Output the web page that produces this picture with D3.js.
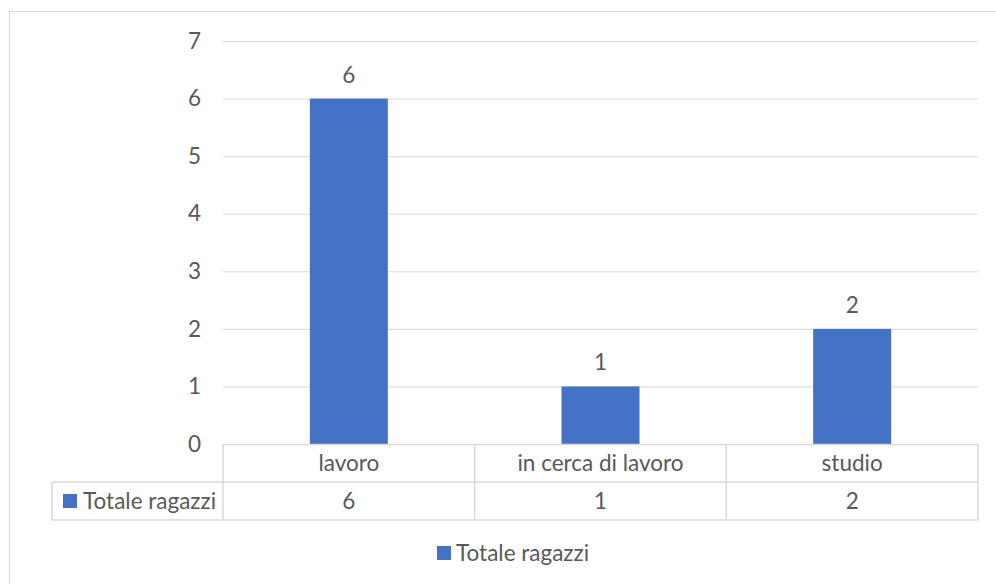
<!DOCTYPE html>
<html>
<head>
<meta charset="utf-8">
<script src="https://cdn.jsdelivr.net/npm/d3@7"></script>
<style>
  body { margin: 0; background: #fff; }
  text { font-family: Lato, "Open Sans", sans-serif; fill: #595959; }
</style>
</head>
<body>
<svg id="chart"></svg>
<script>
const categories = ["lavoro", "in cerca di lavoro", "studio"];
const values = [6, 1, 2];
const seriesName = "Totale ragazzi";
const yTicks = [0, 1, 2, 3, 4, 5, 6, 7];

const W = 996, H = 584;
const margin = { top: 41, right: 18, bottom: 140, left: 223 };
const plotW = W - margin.left - margin.right;
const plotH = H - margin.top - margin.bottom;
const rowH = 38;
const fs = 22.5;

const svg = d3.select("#chart").attr("width", W).attr("height", H);

// outer chart border
svg.append("rect")
    .attr("x", 9.5).attr("y", 11.5)
    .attr("width", W + 20).attr("height", H + 20)
    .attr("fill", "none").attr("stroke", "#d9d9d9");

const g = svg.append("g").attr("transform", `translate(${margin.left},${margin.top})`);

const x = d3.scaleBand().domain(categories).range([0, plotW]).paddingInner(0).paddingOuter(0);
const y = d3.scaleLinear().domain([0, 7]).range([plotH, 0]);
const barW = x.bandwidth() * 0.31;

// gridlines
g.selectAll(".grid")
    .data(yTicks.filter(d => d > 0))
    .join("line")
    .attr("x1", 0).attr("x2", plotW)
    .attr("y1", d => y(d) + 0.5).attr("y2", d => y(d) + 0.5)
    .attr("stroke", "#d9d9d9");

// y axis labels
const yAxis = g.append("g").call(d3.axisLeft(y).tickValues(yTicks).tickFormat(d3.format("d")).tickSize(0).tickPadding(22));
yAxis.select(".domain").remove();
yAxis.selectAll("text").style("font-size", fs + "px").attr("fill", "#595959")
    .attr("font-family", "Lato, Open Sans, sans-serif");

// bars
g.selectAll(".bar")
    .data(categories)
    .join("rect")
    .attr("x", d => x(d) + (x.bandwidth() - barW) / 2)
    .attr("y", (d, i) => y(values[i]))
    .attr("width", barW)
    .attr("height", (d, i) => plotH - y(values[i]))
    .attr("fill", "#4472c4");

// value labels
g.selectAll(".val")
    .data(categories)
    .join("text")
    .attr("x", d => x(d) + x.bandwidth() / 2)
    .attr("y", (d, i) => y(values[i]) - 16)
    .attr("text-anchor", "middle")
    .style("font-size", fs + "px")
    .text((d, i) => values[i]);

// data table
const tbl = g.append("g").attr("transform", `translate(0,${plotH})`);
const border = "#d9d9d9";
const leftColX = 52 - margin.left;

tbl.append("line").attr("x1", 0).attr("x2", plotW).attr("y1", 0.5).attr("y2", 0.5)
    .attr("stroke", border).attr("stroke-width", 1.5);
tbl.append("line").attr("x1", leftColX).attr("x2", plotW).attr("y1", rowH).attr("y2", rowH)
    .attr("stroke", border).attr("stroke-width", 1.5);
tbl.append("line").attr("x1", leftColX).attr("x2", plotW).attr("y1", rowH * 2).attr("y2", rowH * 2)
    .attr("stroke", border).attr("stroke-width", 1.5);
tbl.append("line").attr("x1", leftColX).attr("x2", leftColX).attr("y1", rowH).attr("y2", rowH * 2)
    .attr("stroke", border).attr("stroke-width", 1.5);

const vlines = [0, ...categories.map(c => x(c) + x.bandwidth())];
tbl.selectAll(".vl")
    .data(vlines)
    .join("line")
    .attr("x1", d => d).attr("x2", d => d)
    .attr("y1", 0).attr("y2", rowH * 2)
    .attr("stroke", border).attr("stroke-width", 1.5);

tbl.selectAll(".cat")
    .data(categories)
    .join("text")
    .attr("x", d => x(d) + x.bandwidth() / 2)
    .attr("y", rowH / 2)
    .attr("dy", "0.35em")
    .attr("text-anchor", "middle")
    .style("font-size", fs + "px")
    .text(d => d);

tbl.selectAll(".cell")
    .data(categories)
    .join("text")
    .attr("x", d => x(d) + x.bandwidth() / 2)
    .attr("y", rowH * 1.5)
    .attr("dy", "0.35em")
    .attr("text-anchor", "middle")
    .style("font-size", fs + "px")
    .text((d, i) => values[i]);

tbl.append("rect")
    .attr("x", leftColX + 11).attr("y", rowH * 1.5 - 7)
    .attr("width", 14).attr("height", 14)
    .attr("fill", "#4472c4");
tbl.append("text")
    .attr("x", leftColX + 31).attr("y", rowH * 1.5)
    .attr("dy", "0.35em")
    .style("font-size", fs + "px")
    .text(seriesName);

// legend
const legend = svg.append("g").attr("transform", "translate(437,553)");
legend.append("rect").attr("x", 0).attr("y", -7).attr("width", 14).attr("height", 14).attr("fill", "#4472c4");
legend.append("text").attr("x", 19).attr("y", 0).attr("dy", "0.35em")
    .style("font-size", fs + "px").text(seriesName);
</script>
</body>
</html>
